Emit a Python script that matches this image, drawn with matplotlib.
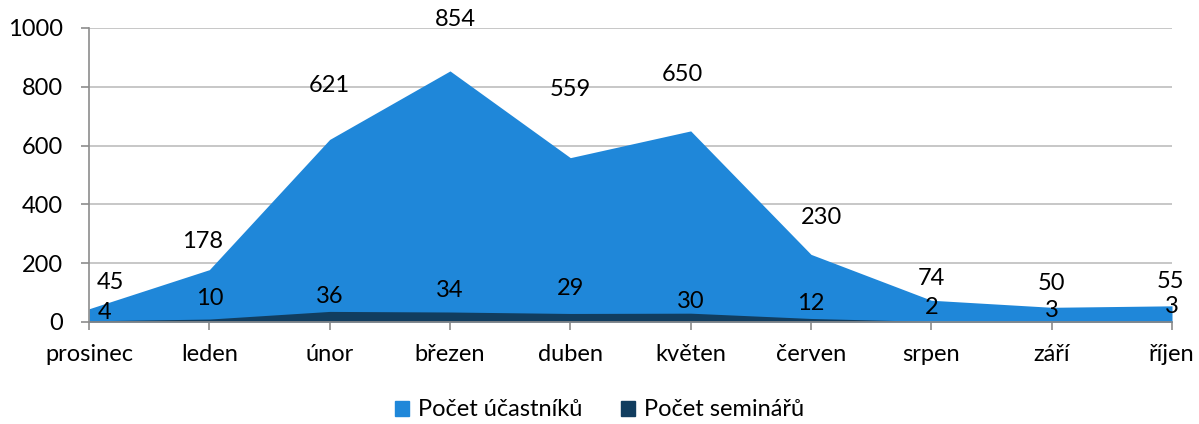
import matplotlib
matplotlib.use("Agg")
import matplotlib.pyplot as plt
from matplotlib.patches import Patch

months = ["prosinec", "leden", "únor", "březen", "duben", "květen", "červen", "srpen", "září", "říjen"]
participants = [45, 178, 621, 854, 559, 650, 230, 74, 50, 55]
seminars = [4, 10, 36, 34, 29, 30, 12, 2, 3, 3]

# label offsets in pixels (dx, dy) as placed in the original
part_off = [(21, 26), (-7, 28), (0, 54), (5, 51), (0, 68), (-8, 56), (10, 37), (0, 22), (0, 24), (-2, 24)]
sem_off = [(16, 8), (0, 21), (0, 15), (0, 22), (0, 25), (0, 12), (0, 15), (0, 14), (0, 11), (0, 15)]

C_LIGHT, C_DARK = "#1F87D9", "#113D5F"
plt.rcParams["font.family"] = ["Lato", "DejaVu Sans"]
FS = 17

fig = plt.figure(figsize=(11.99, 4.24), dpi=100)
ax = fig.add_axes([89 / 1199, 102 / 424, (1172 - 89) / 1199, 294 / 424])
x = list(range(len(months)))
ax.fill_between(x, participants, color=C_LIGHT, lw=0, zorder=2)
ax.fill_between(x, seminars, color=C_DARK, lw=0, zorder=3)

for i, v in enumerate(participants):
    ax.annotate(str(v), (i, v), xytext=part_off[i], textcoords="offset pixels",
                ha="center", va="center", fontsize=FS, color="black", zorder=5)
for i, v in enumerate(seminars):
    ax.annotate(str(v), (i, v), xytext=sem_off[i], textcoords="offset pixels",
                ha="center", va="center", fontsize=FS, color="black", zorder=5)

ax.set_xlim(0, len(months) - 1)
ax.set_ylim(0, 1000)
ax.set_yticks(range(0, 1001, 200))
ax.set_xticks(x)
ax.set_xticklabels(months)
ax.yaxis.grid(True, color="#BEBEBE", lw=1.2, zorder=1)
ax.set_axisbelow(True)
for s in ["top", "right"]:
    ax.spines[s].set_visible(False)
for s in ["left", "bottom"]:
    ax.spines[s].set_color("#8C8C8C")
    ax.spines[s].set_linewidth(1.2)
    ax.spines[s].set_zorder(4)
ax.tick_params(axis="both", colors="#8C8C8C", length=5.8, width=1.2, labelsize=FS, labelcolor="black")
ax.tick_params(axis="x", pad=10)
ax.tick_params(axis="y", pad=13)

handles = [Patch(color=C_LIGHT, label="Počet účastníků"), Patch(color=C_DARK, label="Počet seminářů")]
fig.legend(handles=handles, loc="center", bbox_to_anchor=(0.5, 1 - 410 / 424), ncol=2, frameon=False,
           fontsize=FS, handlelength=0.6, handleheight=0.6, handletextpad=0.4, columnspacing=1.6)

fig.savefig("out.png", dpi=100)
